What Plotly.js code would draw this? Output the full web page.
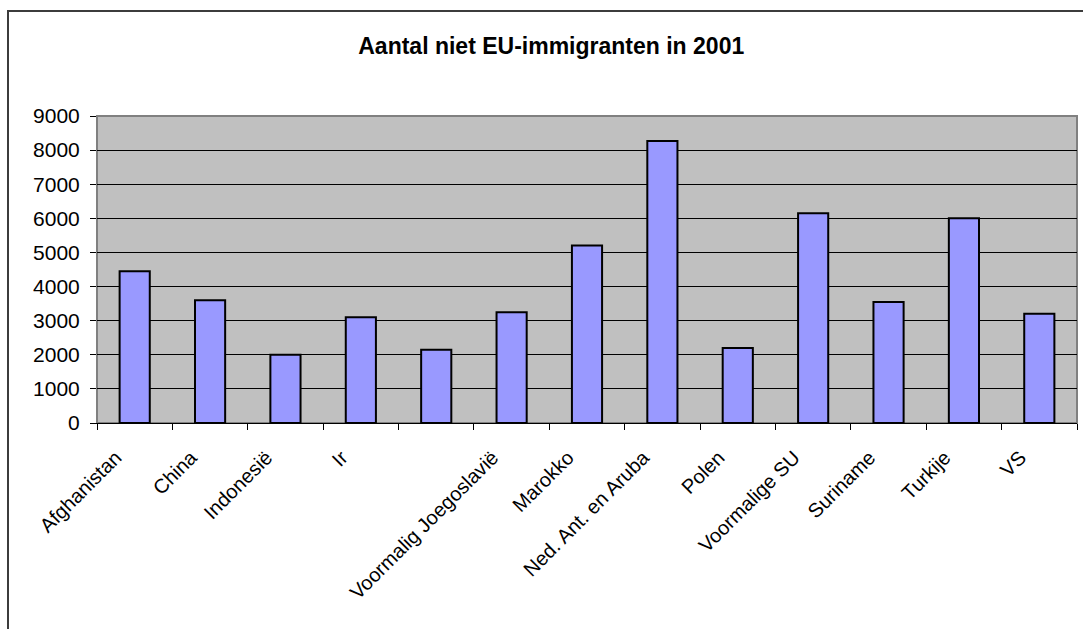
<!DOCTYPE html>
<html>
<head>
<meta charset="utf-8">
<script src="https://cdn.plot.ly/plotly-3.0.1.min.js"></script>
<style>
  html, body { margin: 0; padding: 0; background: #ffffff; overflow: hidden; }
  #frame {
    position: absolute; left: 7px; top: 10px; width: 1120px; height: 700px;
    border: 2px solid #3c3c3c; box-sizing: border-box;
  }
  #chart { position: absolute; left: 0; top: 0; width: 1083px; height: 629px; }
</style>
</head>
<body>
<div id="frame"></div>
<div id="chart"></div>
<script>
// Non-EU immigration to the Netherlands, 2001
const countries = [
  "Afghanistan", "China", "Indonesië", "Irak", "Iran",
  "Voormalig Joegoslavië", "Marokko", "Ned. Ant. en Aruba", "Polen",
  "Voormalige SU", "Suriname", "Turkije", "VS"
];
const immigrants = [4450, 3600, 2000, 3100, 2150, 3250, 5200, 8270, 2200, 6150, 3550, 6000, 3200];
// axis labels as printed under the bars (two of them are cut off by their neighbours)
const tickLabels = [
  "Afghanistan", "China", "Indonesië", "Ir", "",
  "Voormalig Joegoslavië", "Marokko", "Ned. Ant. en Aruba", "Polen",
  "Voormalige SU", "Suriname", "Turkije", "VS"
];
const yTicks = [0, 1000, 2000, 3000, 4000, 5000, 6000, 7000, 8000, 9000];

const font = "Arial, 'Liberation Sans', sans-serif";

const trace = {
  type: "bar",
  x: countries,
  y: immigrants,
  width: 0.4,
  marker: { color: "#9999ff", line: { color: "#000000", width: 2 } },
  hoverinfo: "x+y"
};

const layout = {
  width: 1083,
  height: 629,
  margin: { l: 97, r: 6, t: 116, b: 206, pad: 0 },
  paper_bgcolor: "rgba(0,0,0,0)",
  plot_bgcolor: "#c0c0c0",
  showlegend: false,
  bargap: 0.6,
  title: {
    text: "<b>Aantal niet EU-immigranten in 2001</b>",
    font: { family: font, size: 23, color: "#000000" },
    xref: "container", x: 0.509,
    yref: "container", y: 0.927, yanchor: "middle", xanchor: "center"
  },
  xaxis: {
    type: "category",
    tickmode: "array",
    tickvals: countries,
    ticktext: tickLabels,
    tickson: "boundaries",
    ticks: "outside",
    ticklen: 6,
    tickcolor: "#000000",
    tickwidth: 1,
    tickangle: -45,
    ticklabelshift: -19,
    ticklabelstandoff: 14,
    tickfont: { family: font, size: 20, color: "#000000" },
    showline: true,
    linecolor: "#000000",
    linewidth: 1,
    showgrid: false,
    zeroline: false,
    fixedrange: true
  },
  yaxis: {
    range: [0, 9000],
    tickmode: "array",
    tickvals: yTicks,
    ticktext: yTicks.map(String),
    ticks: "outside",
    ticklen: 6,
    tickcolor: "#000000",
    tickwidth: 1,
    ticklabelstandoff: 6,
    tickfont: { family: font, size: 21, color: "#000000" },
    showline: true,
    linecolor: "#808080",
    linewidth: 1,
    showgrid: true,
    gridcolor: "#000000",
    gridwidth: 1,
    zeroline: false,
    fixedrange: true
  },
  shapes: [
    // grey outline around the plotting area (top and right sides)
    { type: "rect", xref: "paper", yref: "paper", x0: 0, x1: 1, y0: 0, y1: 1,
      line: { color: "#808080", width: 2 }, fillcolor: "rgba(0,0,0,0)", layer: "below" }
  ]
};

Plotly.newPlot("chart", [trace], layout, { displayModeBar: false, staticPlot: true });
</script>
</body>
</html>
